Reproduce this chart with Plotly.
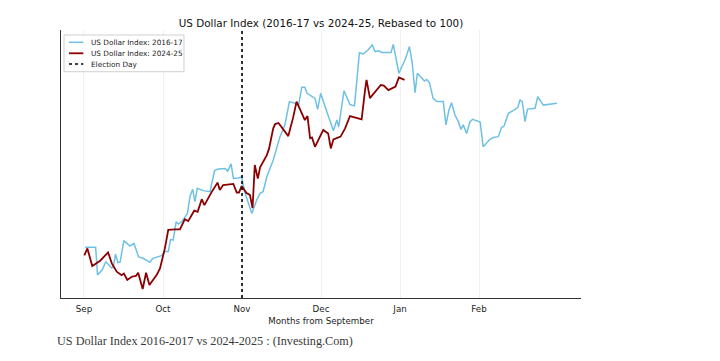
import plotly.graph_objects as go

# ---- data (trading-day index from start of September, index rebased to 100) ----
days_2016 = [0.3, 3.1, 3.6, 4.8, 5.8, 7.4, 7.8, 8.4, 9.0, 9.6, 10.6, 12.2, 13.3, 14.5, 15.7,
             17.5, 18.3, 19.1, 20.6, 21.5, 22.4, 23.0, 23.7, 24.5, 25.1, 26.0, 26.8, 27.5,
             28.2, 28.9, 29.5, 30.1, 31.7, 33.5, 34.7, 35.7, 37.5, 38.2, 39.1, 39.7, 41.0,
             41.9, 42.8, 44.6, 45.9, 46.8, 47.6, 48.6, 50.3, 52.1, 53.4, 54.6, 56.1, 57.0,
             57.9, 58.7, 59.3, 61.4, 62.1, 62.9, 64.1, 65.4, 66.3, 67.2, 67.7, 69.1, 70.7,
             71.9, 73.2, 74.2, 75.5, 76.6, 77.4, 78.4, 79.1, 81.6, 82.2, 83.7, 85.5, 86.5,
             87.2, 88.0, 88.6, 90.5, 91.1, 91.8, 92.8, 93.8, 95.5, 96.2, 97.0, 97.7, 98.6,
             99.5, 100.2, 100.8, 101.7, 102.6, 103.3, 105.3, 106.1, 107.9, 108.8, 110.1,
             111.0, 111.6, 112.8, 114.6, 115.3, 115.9, 116.5, 117.2, 117.9, 119.9, 120.6,
             122.1, 123.9, 125.7]
dxy_2016 = [100.10, 100.10, 99.07, 99.25, 99.56, 99.33, 99.38, 99.85, 99.53, 99.55, 100.35,
            100.15, 100.25, 99.74, 99.69, 99.54, 99.69, 99.73, 99.79, 99.94, 99.94, 100.39,
            100.37, 101.06, 100.97, 101.06, 101.25, 101.37, 102.02, 102.27, 101.81, 102.31,
            102.22, 102.18, 102.97, 103.03, 103.05, 102.95, 103.22, 102.68, 102.69, 102.73,
            102.13, 101.37, 101.87, 102.12, 102.18, 102.74, 103.37, 104.24, 104.68, 105.55,
            105.49, 105.39, 106.09, 106.09, 105.86, 105.67, 105.26, 105.86, 105.36, 104.86,
            104.46, 104.86, 104.60, 105.95, 105.44, 105.39, 107.38, 107.33, 107.48, 107.67,
            107.42, 107.45, 107.39, 107.39, 107.69, 106.61, 107.17, 107.61, 107.04, 105.88,
            106.61, 106.32, 106.38, 106.26, 105.67, 105.55, 105.55, 104.68, 105.24, 105.51,
            105.05, 104.80, 104.51, 104.68, 104.36, 104.80, 104.89, 104.79, 103.86, 104.14,
            104.21, 104.24, 104.59, 104.62, 105.11, 105.26, 105.34, 105.61, 105.55, 104.80,
            105.27, 105.30, 105.73, 105.42, 105.46, 105.49]

days_2024 = [0.1, 0.9, 2.2, 4.3, 6.4, 7.4, 8.7, 10.0, 10.6, 11.5, 12.7, 13.8, 14.4, 15.6,
             16.5, 17.4, 19.3, 20.2, 21.5, 22.4, 24.2, 25.5, 26.8, 27.7, 29.3, 30.2, 31.3,
             32.0, 34.1, 35.5, 36.1, 37.0, 39.7, 40.6, 41.2, 41.9, 43.2, 44.1, 44.8, 45.4,
             46.2, 46.8, 48.6, 49.2, 50.3, 50.8, 51.7, 53.0, 54.3, 55.6, 56.5, 57.9, 58.7,
             59.4, 60.1, 60.6, 61.4, 63.6, 64.9, 65.6, 66.3, 68.2, 69.4, 70.7, 72.0, 73.8,
             74.7, 75.1, 76.0, 77.8, 78.9, 79.7, 80.9, 82.8, 83.7, 85.2]
dxy_2024 = [99.80, 100.06, 99.40, 99.60, 99.91, 99.50, 99.19, 99.06, 99.12, 98.88, 99.00,
            99.03, 99.15, 98.54, 99.15, 98.69, 99.06, 99.31, 100.06, 100.75, 100.77, 100.77,
            101.15, 101.08, 101.47, 101.43, 101.90, 101.68, 102.21, 102.52, 102.24, 102.43,
            102.47, 102.15, 102.15, 102.39, 102.13, 102.06, 101.57, 103.18, 102.67, 103.09,
            103.55, 103.80, 104.55, 104.71, 104.75, 104.49, 104.26, 104.96, 105.55, 105.11,
            104.86, 105.01, 104.18, 104.21, 103.86, 104.49, 104.36, 103.80, 104.14, 104.24,
            104.55, 105.01, 104.96, 104.89, 105.98, 106.36, 105.68, 106.01, 106.17, 106.15,
            105.98, 106.11, 106.45, 106.36]

month_ticks = [0, 21, 42, 63, 84, 105]
month_labels = ["Sep", "Oct", "Nov", "Dec", "Jan", "Feb"]
election_day = 42

series_names = ["US Dollar Index: 2016-17", "US Dollar Index: 2024-25", "Election Day"]
series_colors = ["#6ec1e4", "#8b0000", "black"]
series_widths = [1.5, 1.8, 1.6]
series_dash = ["solid", "solid", "dot"]

X_RANGE = [-6.11, 132.1]
Y_RANGE = [98.205, 108.228]

fig = go.Figure()
fig.add_trace(go.Scatter(x=days_2016, y=dxy_2016, mode="lines", name=series_names[0],
                         showlegend=False,
                         line=dict(color=series_colors[0], width=series_widths[0])))
fig.add_trace(go.Scatter(x=days_2024, y=dxy_2024, mode="lines", name=series_names[1],
                         showlegend=False,
                         line=dict(color=series_colors[1], width=series_widths[1])))
fig.add_trace(go.Scatter(x=[election_day, election_day], y=Y_RANGE, mode="lines",
                         name=series_names[2], showlegend=False,
                         line=dict(color=series_colors[2], width=series_widths[2],
                                   dash=series_dash[2])))

# compact matplotlib-style legend (box, handle lines, labels) in paper coordinates
fig.add_shape(type="rect", xref="paper", yref="paper", x0=0.0058, x1=0.2365,
              y0=0.8444, y1=0.9813, line=dict(color="#d0d0d0", width=1),
              fillcolor="rgba(255,255,255,0.85)", layer="above")
legend_rows = [0.9541, 0.9131, 0.8731]
for name, color, width, dash, yrow in zip(series_names, series_colors, series_widths,
                                          series_dash, legend_rows):
    fig.add_shape(type="line", xref="paper", yref="paper", x0=0.0154, x1=0.0429,
                  y0=yrow, y1=yrow, line=dict(color=color, width=width, dash=dash),
                  layer="above")
    fig.add_annotation(text=name, xref="paper", yref="paper", x=0.0538, y=yrow,
                       xanchor="left", yanchor="middle", showarrow=False,
                       font=dict(size=7.3, color="#222"))

fig.update_layout(
    width=712, height=353,
    margin=dict(l=53, r=139, t=22, b=63),
    paper_bgcolor="white", plot_bgcolor="white",
    font=dict(family="DejaVu Sans", color="#222"),
    title=dict(text="US Dollar Index (2016-17 vs 2024-25, Rebased to 100)",
               xref="paper", x=0.5, xanchor="center", y=1 - 15.5 / 353, yanchor="middle",
               font=dict(size=10.4, color="#111")),
    showlegend=False,
    xaxis=dict(range=X_RANGE, tickvals=month_ticks, ticktext=month_labels,
               showgrid=True, gridcolor="rgba(0,0,0,0.06)", gridwidth=1,
               showline=True, linecolor="#333", linewidth=1.3, zeroline=False,
               ticks="", ticklabelstandoff=2, tickfont=dict(size=8.7, color="#222"),
               title=dict(text="Months from September", font=dict(size=8.7, color="#222"),
                          standoff=5)),
    yaxis=dict(range=Y_RANGE, showticklabels=False, showgrid=False, ticks="",
               showline=True, linecolor="#333", linewidth=1.3, zeroline=False),
)

fig.add_annotation(text="US Dollar Index 2016-2017 vs 2024-2025 : (Investing.Com)",
                   xref="paper", yref="paper", x=-0.012, y=-0.160,
                   xanchor="left", yanchor="middle", showarrow=False,
                   font=dict(family="Liberation Serif", size=12.2, color="#3a3a3a"))

fig.write_html("out.html")
